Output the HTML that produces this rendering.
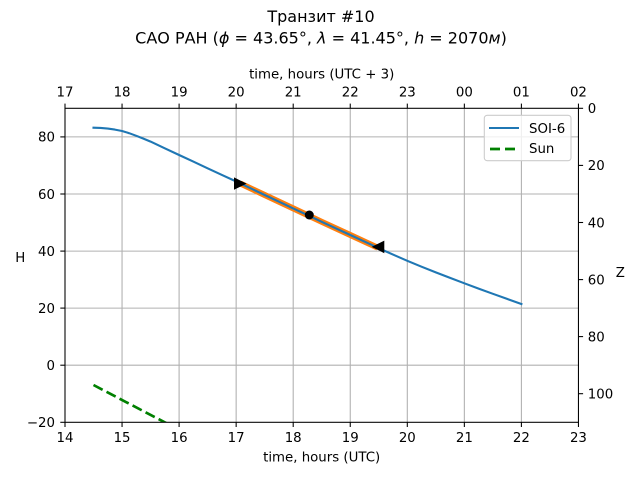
<!DOCTYPE html>
<html>
<head>
<meta charset="utf-8">
<style>
html,body{margin:0;padding:0;background:#fff;}
svg{display:block;}
text{font-family:"DejaVu Sans","Liberation Sans",sans-serif;fill:#000;}
</style>
</head>
<body>
<svg width="640" height="480" viewBox="0 0 640 480" xmlns="http://www.w3.org/2000/svg">
<defs>
<clipPath id="plot"><rect x="65" y="108.3" width="513.45" height="314"/></clipPath>
</defs>
<rect width="640" height="480" fill="#fff"/>

<!-- Title -->
<text x="321" y="22" font-size="16" text-anchor="middle">Транзит #10</text>
<text x="321" y="43.5" font-size="16" text-anchor="middle">САО РАН (<tspan font-style="italic">ϕ</tspan> = 43.65°, <tspan font-style="italic">λ</tspan> = 41.45°, <tspan font-style="italic">h</tspan> = 2070<tspan font-style="italic">м</tspan>)</text>

<!-- grid -->
<g stroke="#b0b0b0" stroke-width="1.07">
<line x1="122.05" y1="108.3" x2="122.05" y2="422.3"/>
<line x1="179.1" y1="108.3" x2="179.1" y2="422.3"/>
<line x1="236.15" y1="108.3" x2="236.15" y2="422.3"/>
<line x1="293.2" y1="108.3" x2="293.2" y2="422.3"/>
<line x1="350.25" y1="108.3" x2="350.25" y2="422.3"/>
<line x1="407.3" y1="108.3" x2="407.3" y2="422.3"/>
<line x1="464.35" y1="108.3" x2="464.35" y2="422.3"/>
<line x1="521.4" y1="108.3" x2="521.4" y2="422.3"/>
<line x1="65" y1="365.2" x2="578.45" y2="365.2"/>
<line x1="65" y1="308.1" x2="578.45" y2="308.1"/>
<line x1="65" y1="251.1" x2="578.45" y2="251.1"/>
<line x1="65" y1="194.0" x2="578.45" y2="194.0"/>
<line x1="65" y1="136.9" x2="578.45" y2="136.9"/>
</g>

<g clip-path="url(#plot)">
<!-- orange highlight -->
<polyline fill="none" stroke="#ff7f0e" stroke-width="6" stroke-linejoin="round" stroke-linecap="butt"
 points="240.2,183.4 264.7,195.0 293.2,208.4 321.7,221.8 350.3,235.0 377.7,247.7"/>
<!-- SOI-6 -->
<polyline fill="none" stroke="#1f77b4" stroke-width="2.1" stroke-linejoin="round" stroke-linecap="square"
 points="93.5,127.7 100.6,127.9 107.8,128.6 114.9,129.6 122.05,131.0 129.2,133.2 136.3,135.8 143.4,138.6 150.6,141.6 164.8,148.3 179.1,155.0 193.3,161.6 207.6,168.3 221.9,174.9 236.2,181.5 250.4,188.2 264.7,195.0 279.0,201.7 293.2,208.4 307.5,215.1 321.7,221.8 336.0,228.4 350.3,235.0 364.5,241.6 378.8,248.2 393.0,254.6 407.3,260.8 421.5,266.7 435.8,272.4 450.1,277.9 464.4,283.3 478.6,288.6 492.9,293.8 507.1,298.9 521.4,304.0"/>
<!-- Sun -->
<line x1="93.5" y1="385" x2="175" y2="427.7" stroke="#008000" stroke-width="2.67" stroke-dasharray="10.3,4.4"/>
</g>

<!-- markers -->
<polygon points="234,177.4 246.6,183.6 234,189.8" fill="#000"/>
<circle cx="309.3" cy="215" r="4.5" fill="#000"/>
<polygon points="371.7,246.9 384.3,240.6 384.3,253.2" fill="#000"/>

<!-- spines -->
<rect x="65" y="108.3" width="513.45" height="314" fill="none" stroke="#000" stroke-width="1.07"/>

<!-- ticks -->
<g stroke="#000" stroke-width="1.07">
<!-- bottom -->
<line x1="65" y1="422.3" x2="65" y2="427"/>
<line x1="122.05" y1="422.3" x2="122.05" y2="427"/>
<line x1="179.1" y1="422.3" x2="179.1" y2="427"/>
<line x1="236.15" y1="422.3" x2="236.15" y2="427"/>
<line x1="293.2" y1="422.3" x2="293.2" y2="427"/>
<line x1="350.25" y1="422.3" x2="350.25" y2="427"/>
<line x1="407.3" y1="422.3" x2="407.3" y2="427"/>
<line x1="464.35" y1="422.3" x2="464.35" y2="427"/>
<line x1="521.4" y1="422.3" x2="521.4" y2="427"/>
<line x1="578.45" y1="422.3" x2="578.45" y2="427"/>
<!-- top -->
<line x1="65" y1="108.3" x2="65" y2="103.6"/>
<line x1="122.05" y1="108.3" x2="122.05" y2="103.6"/>
<line x1="179.1" y1="108.3" x2="179.1" y2="103.6"/>
<line x1="236.15" y1="108.3" x2="236.15" y2="103.6"/>
<line x1="293.2" y1="108.3" x2="293.2" y2="103.6"/>
<line x1="350.25" y1="108.3" x2="350.25" y2="103.6"/>
<line x1="407.3" y1="108.3" x2="407.3" y2="103.6"/>
<line x1="464.35" y1="108.3" x2="464.35" y2="103.6"/>
<line x1="521.4" y1="108.3" x2="521.4" y2="103.6"/>
<line x1="578.45" y1="108.3" x2="578.45" y2="103.6"/>
<!-- left -->
<line x1="60.3" y1="422.3" x2="65" y2="422.3"/>
<line x1="60.3" y1="365.2" x2="65" y2="365.2"/>
<line x1="60.3" y1="308.1" x2="65" y2="308.1"/>
<line x1="60.3" y1="251.1" x2="65" y2="251.1"/>
<line x1="60.3" y1="194.0" x2="65" y2="194.0"/>
<line x1="60.3" y1="136.9" x2="65" y2="136.9"/>
<!-- right -->
<line x1="578.45" y1="108.3" x2="583.1" y2="108.3"/>
<line x1="578.45" y1="165.4" x2="583.1" y2="165.4"/>
<line x1="578.45" y1="222.5" x2="583.1" y2="222.5"/>
<line x1="578.45" y1="279.6" x2="583.1" y2="279.6"/>
<line x1="578.45" y1="336.6" x2="583.1" y2="336.6"/>
<line x1="578.45" y1="393.7" x2="583.1" y2="393.7"/>
</g>

<!-- bottom tick labels -->
<g font-size="13.33" text-anchor="middle">
<text x="65" y="442.2">14</text>
<text x="122.05" y="442.2">15</text>
<text x="179.1" y="442.2">16</text>
<text x="236.15" y="442.2">17</text>
<text x="293.2" y="442.2">18</text>
<text x="350.25" y="442.2">19</text>
<text x="407.3" y="442.2">20</text>
<text x="464.35" y="442.2">21</text>
<text x="521.4" y="442.2">22</text>
<text x="578.45" y="442.2">23</text>
</g>
<!-- top tick labels -->
<g font-size="13.33" text-anchor="middle">
<text x="65" y="96.5">17</text>
<text x="122.05" y="96.5">18</text>
<text x="179.1" y="96.5">19</text>
<text x="236.15" y="96.5">20</text>
<text x="293.2" y="96.5">21</text>
<text x="350.25" y="96.5">22</text>
<text x="407.3" y="96.5">23</text>
<text x="464.35" y="96.5">00</text>
<text x="521.4" y="96.5">01</text>
<text x="578.45" y="96.5">02</text>
</g>
<!-- left tick labels -->
<g font-size="13.33" text-anchor="end">
<text x="55" y="427.1">−20</text>
<text x="55" y="370.0">0</text>
<text x="55" y="312.9">20</text>
<text x="55" y="255.9">40</text>
<text x="55" y="198.8">60</text>
<text x="55" y="141.7">80</text>
</g>
<!-- right tick labels -->
<g font-size="13.33" text-anchor="start">
<text x="587.8" y="113.1">0</text>
<text x="587.8" y="170.2">20</text>
<text x="587.8" y="227.3">40</text>
<text x="587.8" y="284.4">60</text>
<text x="587.8" y="341.4">80</text>
<text x="587.8" y="398.5">100</text>
</g>

<!-- axis labels -->
<text x="321.7" y="461.5" font-size="13.33" text-anchor="middle">time, hours (UTC)</text>
<text x="321.7" y="78.3" font-size="13.33" text-anchor="middle">time, hours (UTC + 3)</text>
<text x="20.3" y="261.9" font-size="13.33" text-anchor="middle">H</text>
<text x="620.3" y="276.9" font-size="13.33" text-anchor="middle">Z</text>

<!-- legend -->
<rect x="484.3" y="115.3" width="86.7" height="45.4" rx="3" ry="3" fill="#fff" fill-opacity="0.8" stroke="#cccccc" stroke-width="1.07"/>
<line x1="489" y1="128" x2="519" y2="128" stroke="#1f77b4" stroke-width="2.1"/>
<line x1="490" y1="149" x2="519" y2="149" stroke="#008000" stroke-width="2.67" stroke-dasharray="10,5"/>
<text x="529" y="133" font-size="13.33">SOI-6</text>
<text x="529" y="153.2" font-size="13.33">Sun</text>
</svg>
</body>
</html>
